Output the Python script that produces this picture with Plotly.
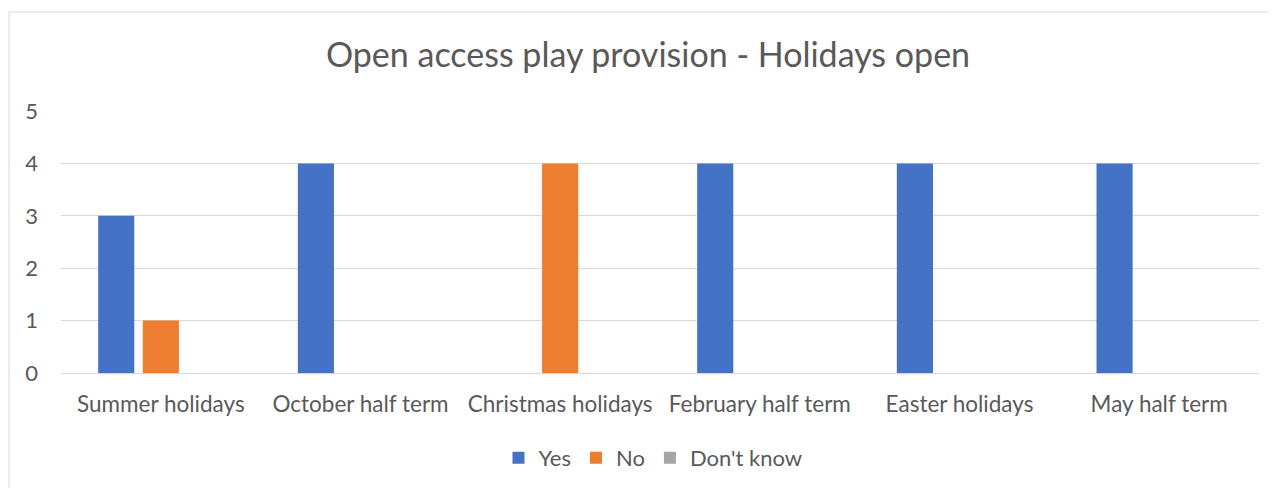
import plotly.graph_objects as go

categories = ["Summer holidays", "October half term", "Christmas holidays",
              "February half term", "Easter holidays", "May half term"]
yes_vals = [3, 4, 0, 4, 4, 4]
no_vals = [1, 0, 4, 0, 0, 0]
dont_know_vals = [0, 0, 0, 0, 0, 0]
y_ticks = [0, 1, 2, 3, 4, 5]

FONT = "Lato"
OFF = 8  # default page body margin
W, H = 1277 - OFF, 488 - OFF
# target pixel positions in the screenshot
PX_L, PX_R, PX_T, PX_B = 61, 1259, 111, 373
L, R, T, B = PX_L - OFF, 1277 - PX_R, PX_T - OFF, 488 - PX_B

fig = go.Figure()
fig.add_trace(go.Bar(name="Yes", x=categories, y=yes_vals, marker_color="#4472C4", marker_line_width=0))
fig.add_trace(go.Bar(name="No", x=categories, y=no_vals, marker_color="#ED7D31", marker_line_width=0))
fig.add_trace(go.Bar(name="Don't know", x=categories, y=dont_know_vals, marker_color="#A5A5A5", marker_line_width=0))

pw = PX_R - PX_L
ph = PX_B - PX_T
fig.add_shape(type="rect", xref="paper", yref="paper",
              x0=(9 - PX_L) / pw, x1=(1290 - PX_L) / pw,
              y0=(PX_B - 500) / ph, y1=(PX_B - 12) / ph,
              line=dict(color="#D9D9D9", width=1), fillcolor="rgba(0,0,0,0)", layer="below")

fig.update_layout(
    width=W, height=H,
    barmode="group", bargap=0.33, bargroupgap=0.19,
    plot_bgcolor="white", paper_bgcolor="white",
    margin=dict(l=L, r=R, t=T, b=B, autoexpand=False),
    title=dict(text="Open access play provision - Holidays open",
               x=(648 - OFF) / W, xanchor="center", y=1 - (55 - OFF) / H, yanchor="middle",
               font=dict(family=FONT, size=34, color="#595959")),
    font=dict(family=FONT, color="#595959"),
    legend=dict(orientation="h", x=(653 - PX_L) / pw, xanchor="center", y=(PX_B - 458) / ph, yanchor="middle",
                font=dict(family=FONT, size=22, color="#595959"),
                traceorder="normal", itemwidth=30),
    showlegend=True,
)
fig.update_xaxes(showline=False, ticks="", tickfont=dict(family=FONT, size=22.5, color="#595959"),
                 ticklabelstandoff=15)
fig.update_yaxes(range=[0, 5], tickvals=y_ticks, showgrid=True, gridcolor="#D9D9D9", gridwidth=1.3,
                 zeroline=True, zerolinecolor="#D9D9D9", zerolinewidth=1.3,
                 ticks="", tickfont=dict(family=FONT, size=22, color="#595959"),
                 ticklabelstandoff=22)

fig.write_html("out.html")
